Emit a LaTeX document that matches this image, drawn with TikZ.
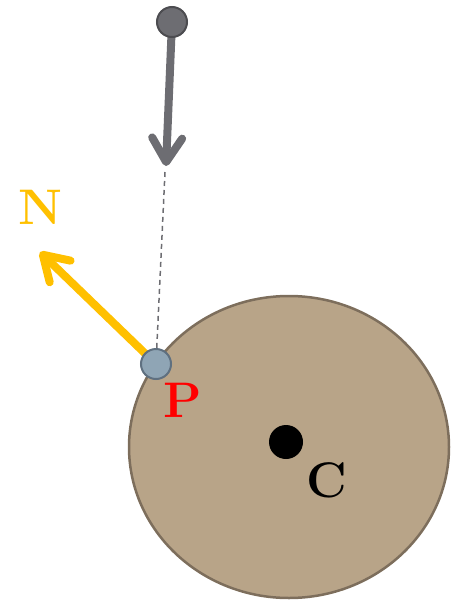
\documentclass[tikz,border=0pt]{standalone}
\usepackage{tikz}
\usetikzlibrary{arrows.meta,positioning}
\definecolor{rockfill}{RGB}{184,164,136}
\definecolor{rockline}{RGB}{125,110,92}
\definecolor{ray}{RGB}{109,109,114}
\definecolor{hitblue}{RGB}{143,165,181}
\definecolor{hitline}{RGB}{95,112,128}
\definecolor{normal}{RGB}{255,192,0}
\tikzset{
  ball/.style={circle,draw=#1!70!black,fill=#1,line width=2pt,inner sep=0pt,minimum size=30pt},
  lbl/.style={font=\fontsize{50}{50}\selectfont\bfseries},
  barb/.style={-{Straight Barb[round,length=24pt,width=30pt]},line width=8pt}
}

\begin{document}
\begin{tikzpicture}[x=1pt,y=-1pt]
\useasboundingbox (0,0) rectangle (453,600);
\coordinate (src) at (172,22); \coordinate (hit) at (156,364);
\coordinate (tip) at (166,166); \coordinate (ntip) at (40,252);
% sphere
\draw[fill=rockfill,draw=rockline,line width=2.5pt] (289,447) ellipse (160 and 151);
\fill (286,442) circle (17) coordinate (c);
% ray and normal
\draw[barb,ray] (src)--(tip);
\draw[ray,line width=1.5pt,dash pattern=on 5pt off 4pt] (165,172)--(hit);
\draw[barb,normal] (hit)--(ntip);
\node[ball=ray] (start) at (src) {};
\node[ball=hitblue,draw=hitline] (p) at (hit) {};
\node[lbl,normal] (n) at (40,207) {N};
\node[lbl,red] (plbl) at (183,400) {P};
\node[lbl] (clbl) at (327,480) {C};
\end{tikzpicture}
\end{document}
